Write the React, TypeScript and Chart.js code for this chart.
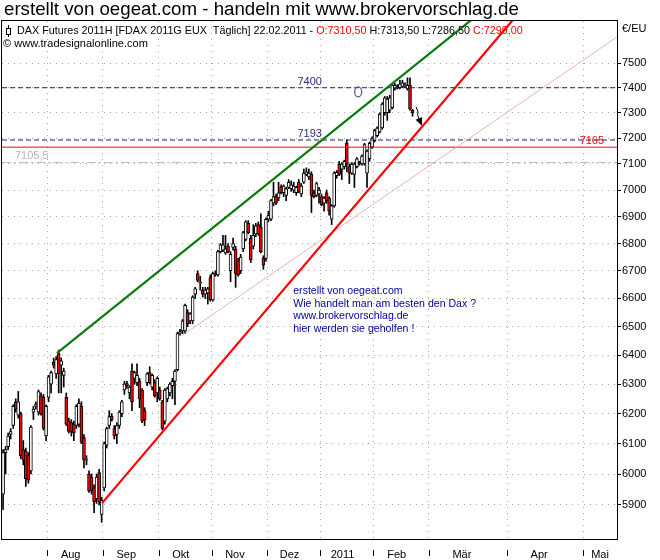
import React, { useEffect, useRef } from "react";
import { Chart, registerables } from "chart.js";

Chart.register(...registerables);

// Bar index counts trading days from 1 Jul 2010 (index 0); after the last bar (22.02.2011) calendar days follow.
const FIRST_BAR = 4;

const opens = [
  5935, 6070, 6090, 6130, 6160, 6240, 6195, 6200, 6080, 6075, 6060, 6010, 6205, 6225, 6205, 6260, 6255, 6125, 6255,
  6300, 6375, 6335, 6405, 6365, 6330, 6255, 6175, 6170, 6165, 6160, 6165, 6225, 6120, 6045, 6000, 5990, 5955, 5920, 6005, 5870,
  5955, 6095, 6160, 6192, 6150, 6130, 6160, 6200, 6280, 6302, 6270, 6345, 6320, 6305, 6310, 6280, 6210, 6305, 6340, 6290, 6305, 6270,
  6280, 6240, 6175, 6250, 6270, 6295, 6310, 6350, 6478, 6485, 6485, 6550, 6520, 6520, 6615, 6690, 6655, 6630, 6615, 6620, 6675,
  6595, 6690, 6685, 6770, 6775, 6765, 6790, 6700, 6785, 6780, 6735, 6700, 6780, 6815, 6875, 6820, 6790, 6835, 6870, 6860, 6745, 6745,
  6890, 6890, 6950, 6975, 6970, 7010, 6990, 6980, 7010, 7005, 7000, 6990, 7030, 6985, 7030, 7060, 7050, 7060, 6990, 6980, 6985,
  6975, 6950, 6990, 6970, 6890, 6940, 7055, 7100, 7080, 7090, 7180, 7090, 7065, 7060, 7090, 7105, 7100, 7100, 7065, 7120, 7165,
  7190, 7210, 7225, 7240, 7300, 7300, 7310, 7320, 7395, 7405, 7400, 7405, 7408, 7395, 7410, 7310.5,
];
const highs = [
  6080, 6090, 6135, 6150, 6230, 6250, 6275, 6205, 6110, 6085, 6070, 6160, 6225, 6240, 6280, 6270, 6265, 6230, 6330,
  6345, 6390, 6395, 6418, 6390, 6355, 6270, 6185, 6180, 6175, 6230, 6250, 6240, 6130, 6060, 6010, 6000, 5965, 6000, 6015, 5925,
  6105, 6155, 6210, 6200, 6160, 6170, 6210, 6245, 6310, 6310, 6295, 6370, 6345, 6370, 6320, 6285, 6220, 6340, 6360, 6335, 6315, 6325,
  6290, 6245, 6285, 6290, 6305, 6320, 6350, 6480, 6490, 6525, 6580, 6560, 6550, 6610, 6640, 6700, 6680, 6640, 6640, 6640, 6685,
  6695, 6700, 6775, 6800, 6830, 6830, 6800, 6770, 6820, 6790, 6745, 6760, 6845, 6885, 6885, 6830, 6870, 6875, 6880, 6910, 6755, 6895,
  6920, 6965, 7030, 6985, 7030, 7020, 7020, 7010, 7040, 7035, 7030, 7015, 7040, 7025, 7080, 7085, 7080, 7070, 7000, 7030, 7010,
  6985, 6975, 7000, 6975, 6945, 7070, 7075, 7110, 7105, 7115, 7193, 7100, 7105, 7105, 7125, 7110, 7135, 7180, 7155, 7185, 7205,
  7235, 7245, 7300, 7340, 7365, 7365, 7370, 7415, 7418, 7412, 7430, 7430, 7420, 7440, 7440, 7313.5,
];
const lows = [
  5885, 6000, 6080, 6115, 6150, 6205, 6185, 6050, 6030, 5960, 5970, 6000, 6180, 6215, 6195, 6195, 6145, 6110, 6240,
  6270, 6355, 6320, 6270, 6270, 6290, 6160, 6135, 6125, 6110, 6150, 6155, 6100, 6020, 6030, 5940, 5935, 5875, 5905, 5900, 5845,
  5945, 6085, 6150, 6175, 6115, 6100, 6150, 6190, 6265, 6285, 6250, 6210, 6300, 6295, 6220, 6170, 6160, 6295, 6300, 6280, 6255, 6240,
  6245, 6145, 6165, 6240, 6260, 6250, 6230, 6345, 6470, 6475, 6475, 6500, 6510, 6510, 6600, 6660, 6630, 6605, 6600, 6580, 6590,
  6590, 6680, 6680, 6765, 6770, 6760, 6765, 6660, 6775, 6640, 6680, 6690, 6770, 6810, 6835, 6730, 6780, 6825, 6830, 6765, 6705, 6735,
  6880, 6885, 6940, 6945, 6960, 6985, 6975, 6960, 7005, 6995, 6990, 6980, 6990, 6975, 7025, 7055, 7040, 6915, 6970, 6975, 6950,
  6940, 6920, 6950, 6905, 6870, 6935, 7045, 7055, 7040, 7080, 7070, 7025, 7060, 7010, 7085, 7095, 7095, 7095, 7010, 7110, 7160,
  7185, 7205, 7220, 7235, 7290, 7270, 7300, 7315, 7390, 7395, 7395, 7400, 7400, 7390, 7310, 7286.5,
];
const closes = [
  6070, 6080, 6125, 6140, 6225, 6215, 6240, 6060, 6045, 5985, 5980, 6155, 6215, 6232, 6275, 6200, 6150, 6225, 6325,
  6340, 6365, 6385, 6335, 6380, 6345, 6165, 6140, 6140, 6135, 6225, 6235, 6105, 6045, 6048, 5945, 5945, 5910, 5990, 5910, 5915,
  6100, 6150, 6190, 6180, 6125, 6160, 6205, 6240, 6300, 6295, 6290, 6240, 6340, 6330, 6250, 6175, 6180, 6335, 6305, 6330, 6260, 6320,
  6250, 6150, 6280, 6285, 6300, 6310, 6345, 6475, 6482, 6520, 6575, 6510, 6545, 6605, 6635, 6665, 6660, 6615, 6630, 6635, 6595,
  6690, 6685, 6770, 6795, 6795, 6780, 6770, 6760, 6800, 6690, 6685, 6750, 6840, 6880, 6840, 6740, 6830, 6865, 6835, 6770, 6720, 6890,
  6905, 6960, 6975, 6950, 6990, 6990, 7015, 7005, 7030, 7020, 7015, 7010, 6995, 7015, 7065, 7070, 7065, 6980, 6975, 7025, 7000,
  6945, 6970, 6960, 6920, 6940, 7065, 7068, 7060, 7100, 7110, 7100, 7065, 7100, 7100, 7120, 7100, 7130, 7175, 7150, 7180, 7200,
  7230, 7240, 7295, 7335, 7360, 7355, 7360, 7410, 7410, 7398, 7415, 7420, 7412, 7410, 7315, 7299,
];

const monthLabels = ["Aug", "Sep", "Okt", "Nov", "Dez", "2011", "Feb", "Mär", "Apr", "Mai"];
// bar index of the first day of each month (Aug 2010 ... Jun 2011)
const monthStarts = [22, 44, 66, 87, 109, 130, 151, 173, 204, 234, 265];
const priceTicks = [5900, 6000, 6100, 6200, 6300, 6400, 6500, 6600, 6700, 6800, 6900, 7000, 7100, 7200, 7300, 7400, 7500];

const level7400 = 7400;
const level7193 = 7193;
const level7165 = 7165;
const level7105 = 7105.5;

const greenTrend = [{ x: 25.3, y: 6407 }, { x: 199.1, y: 7761 }];
const redTrend = [{ x: 43.15, y: 5906 }, { x: 212.4, y: 7761 }];
const pinkTrend = [{ x: 74.4, y: 6466 }, { x: 246.9, y: 7607 }];

const X_MIN = 3.57;
const X_MAX = 246.9;
const Y_MIN = 5792;
const Y_MAX = 7673;

const noteLines = [
  "erstellt von oegeat.com",
  "Wie handelt man am besten den Dax ?",
  "www.brokervorschlag.de",
  "hier werden sie geholfen !",
];

const FONT = "Liberation Sans";

const boundaries = monthStarts.slice(0, monthLabels.length).map((s) => s - 0.5);
const labelPositions = boundaries.map((b, k) =>
  Math.min(b + 0.42 * (monthStarts[k + 1] - 0.5 - b), (b + X_MAX) / 2)
);
const xTickDefs = [
  ...boundaries.map((v) => ({ value: v, label: "", boundary: true })),
  ...labelPositions.map((v, k) => ({ value: v, label: monthLabels[k], boundary: false })),
].sort((a, b) => a.value - b.value);

const fmt = (v: number) => v.toFixed(2).replace(".", ",");

function fitSize(ctx: CanvasRenderingContext2D, text: string, width: number) {
  ctx.font = `100px "${FONT}"`;
  return (100 * width) / ctx.measureText(text).width;
}

const overlay = {
  id: "overlay",
  beforeDraw(chart: any) {
    const { ctx, width, height } = chart;
    ctx.save();
    ctx.fillStyle = "#ffffff";
    ctx.fillRect(0, 0, width, height);
    ctx.restore();
  },
  afterDraw(chart: any) {
    const { ctx, chartArea: a, scales } = chart;
    const px = (v: number) => scales.x.getPixelForValue(v);
    const py = (v: number) => scales.y.getPixelForValue(v);
    ctx.save();
    ctx.textBaseline = "alphabetic";

    // plot frame
    ctx.strokeStyle = "#000";
    ctx.lineWidth = 1;
    ctx.strokeRect(Math.round(a.left) - 0.5, Math.round(a.top) - 0.5, Math.round(a.right - a.left) + 1, Math.round(a.bottom - a.top) + 1);

    // month separators in label row
    ctx.beginPath();
    boundaries.forEach((b) => {
      const x = Math.round(px(b)) + 0.5;
      if (x > a.left && x < a.right) {
        ctx.moveTo(x, a.bottom + 11);
        ctx.lineTo(x, a.bottom + 17);
      }
    });
    ctx.stroke();

    // main title
    const title = "erstellt von oegeat.com - handeln mit www.brokervorschlag.de";
    const ts = fitSize(ctx, title, 515);
    ctx.font = `${ts}px "${FONT}"`;
    ctx.fillStyle = "#000";
    ctx.textAlign = "left";
    ctx.fillText(title, 4, 15);

    // info header
    const last = opens.length - 1;
    const segs = [
      { t: "DAX Futures 2011H [FDAX 2011G EUX  Täglich] 22.02.2011 - ", c: "#000" },
      { t: "O:" + fmt(opens[last]), c: "#ff0000" },
      { t: " H:" + fmt(highs[last]) + " L:" + fmt(lows[last]) + " ", c: "#000" },
      { t: "C:" + fmt(closes[last]), c: "#ff0000" },
    ];
    const hs = fitSize(ctx, segs.map((s) => s.t).join(""), 506);
    ctx.font = `${hs}px "${FONT}"`;
    let hx = 17;
    segs.forEach((s) => {
      ctx.fillStyle = s.c;
      ctx.fillText(s.t, hx, 34);
      hx += ctx.measureText(s.t).width;
    });
    const copy = "© www.tradesignalonline.com";
    ctx.font = `${fitSize(ctx, copy, 145)}px "${FONT}"`;
    ctx.fillStyle = "#000";
    ctx.fillText(copy, 3, 47);

    // candle icon
    ctx.strokeStyle = "#000";
    ctx.beginPath();
    ctx.moveTo(8.5, 25);
    ctx.lineTo(8.5, 37);
    ctx.stroke();
    ctx.fillStyle = "#fff";
    ctx.fillRect(6.5, 28.5, 4, 6);
    ctx.strokeRect(6.5, 28.5, 4, 6);

    // axis unit
    ctx.font = `11px "${FONT}"`;
    ctx.fillStyle = "#000";
    ctx.fillText("€/EU", 622, 32);

    // level labels
    ctx.font = `11px "${FONT}"`;
    ctx.textAlign = "center";
    ctx.fillStyle = "#2a2a78";
    ctx.fillText("7400", px(125.3), py(level7400) - 3);
    ctx.fillText("7193", px(125.3), py(level7193) - 3);
    ctx.textAlign = "right";
    ctx.fillStyle = "#ff0000";
    ctx.fillText("7165", px(241.8), py(level7165) - 3);
    ctx.textAlign = "left";
    ctx.fillStyle = "#b4b4b4";
    ctx.fillText("7105,5", px(8.7), py(level7105) - 4);

    // note block
    ctx.fillStyle = "#0000a0";
    const ns = fitSize(ctx, noteLines[1], 183);
    ctx.font = `${ns}px "${FONT}"`;
    const nx = px(118.8);
    const ny = py(6616);
    noteLines.forEach((l, k) => ctx.fillText(l, nx, ny + k * 12.7));

    // "O" marker
    ctx.strokeStyle = "#5a5a88";
    ctx.lineWidth = 1.3;
    ctx.beginPath();
    ctx.ellipse(px(144.5), py(7383), 3.5, 5, 0, 0, Math.PI * 2);
    ctx.stroke();

    // arrow
    const x1 = px(167.4), y1 = py(7323);
    const x2 = px(169.4), y2 = py(7256);
    ctx.strokeStyle = "#000";
    ctx.lineWidth = 1;
    ctx.beginPath();
    ctx.moveTo(x1, y1);
    ctx.lineTo(x1 + 2, y1 + 5);
    ctx.lineTo(x1 + 1.5, y1 + 8);
    ctx.lineTo(x2, y2);
    ctx.stroke();
    const ang = Math.atan2(y2 - (y1 + 8), x2 - (x1 + 1.5));
    ctx.fillStyle = "#000";
    ctx.beginPath();
    ctx.moveTo(x2 + Math.cos(ang) * 2, y2 + Math.sin(ang) * 2);
    ctx.lineTo(x2 - Math.cos(ang) * 6 + Math.sin(ang) * 3.5, y2 - Math.sin(ang) * 6 - Math.cos(ang) * 3.5);
    ctx.lineTo(x2 - Math.cos(ang) * 6 - Math.sin(ang) * 3.5, y2 - Math.sin(ang) * 6 + Math.cos(ang) * 3.5);
    ctx.closePath();
    ctx.fill();

    ctx.restore();
  },
};

function levelLine(y: number) {
  return [{ x: X_MIN, y }, { x: X_MAX, y }];
}

export default function App() {
  const ref = useRef<HTMLCanvasElement>(null);

  useEffect(() => {
    const canvas = ref.current;
    if (!canvas) return;
    const idx = opens.map((_, k) => FIRST_BAR + k);
    const wickData = idx.map((x, k) => ({ x, y: [lows[k], highs[k]] }));
    const bodyData = idx.map((x, k) => ({ x, y: [opens[k], closes[k]] }));
    const bodyColors = opens.map((o, k) => (closes[k] < o ? "#ff0000" : "#ffffff"));

    const lineBase = { type: "line", pointRadius: 0, tension: 0, fill: false, borderCapStyle: "butt" };

    const chart = new Chart(canvas, {
      type: "bar",
      data: {
        datasets: [
          { ...lineBase, data: levelLine(level7105), borderColor: "#bdbdbd", borderWidth: 1, borderDash: [9, 3, 2, 3], order: 5 } as any,
          { type: "bar", data: wickData, backgroundColor: "#000", borderWidth: 0, barThickness: 1, grouped: false, order: 4 } as any,
          {
            type: "bar", data: bodyData, backgroundColor: bodyColors, borderColor: "#000", borderWidth: 1,
            borderSkipped: false, barThickness: 3, grouped: false, minBarLength: 1, order: 3,
          } as any,
          { ...lineBase, data: levelLine(level7400), borderColor: "#20206e", borderWidth: 1, borderDash: [5, 3], order: 2 } as any,
          { ...lineBase, data: levelLine(level7193), borderColor: "#20206e", borderWidth: 1, borderDash: [5, 3], order: 2 } as any,
          { ...lineBase, data: levelLine(level7165), borderColor: "#ff0000", borderWidth: 1, order: 2 } as any,
          { ...lineBase, data: pinkTrend, borderColor: "#f0b4b4", borderWidth: 1, order: 1 } as any,
          { ...lineBase, data: greenTrend, borderColor: "#0a7a0a", borderWidth: 2.2, order: 0 } as any,
          { ...lineBase, data: redTrend, borderColor: "#ff0000", borderWidth: 2.2, order: 0 } as any,
        ],
      },
      options: {
        animation: false,
        responsive: false,
        devicePixelRatio: 1,
        events: [],
        layout: { padding: { left: 2, top: 21, right: 0, bottom: 0 } },
        plugins: { legend: { display: false }, tooltip: { enabled: false }, title: { display: false } },
        scales: {
          x: {
            type: "linear",
            position: "bottom",
            min: X_MIN,
            max: X_MAX,
            offset: false,
            afterBuildTicks: (s: any) => {
              s.ticks = xTickDefs.map((d) => ({ value: d.value }));
            },
            afterFit: (s: any) => {
              s.height = 21;
            },
            ticks: {
              autoSkip: false,
              maxRotation: 0,
              minRotation: 0,
              padding: 9,
              color: "#000",
              font: { family: FONT, size: 11 },
              callback: (_v: any, i: number) => xTickDefs[i].label,
            },
            grid: {
              offset: false,
              drawTicks: false,
              lineWidth: 1,
              color: (c: any) => (xTickDefs[c.index] && xTickDefs[c.index].boundary ? "#a8a8a8" : "rgba(0,0,0,0)"),
            },
            border: { display: false, dash: [1, 5] },
          },
          y: {
            type: "logarithmic",
            position: "right",
            min: Y_MIN,
            max: Y_MAX,
            beginAtZero: false,
            afterBuildTicks: (s: any) => {
              s.ticks = priceTicks.map((v) => ({ value: v }));
            },
            afterFit: (s: any) => {
              s.width = 43;
            },
            ticks: {
              padding: 1,
              color: "#000",
              font: { family: FONT, size: 11 },
              callback: (v: any) => String(v),
            },
            grid: { color: "#a8a8a8", lineWidth: 1, drawTicks: true, tickLength: 4, tickColor: "#000" },
            border: { display: false, dash: [1, 5] },
          },
        },
      } as any,
      plugins: [overlay],
    } as any);

    return () => chart.destroy();
  }, []);

  return (
    <div style={{ position: "fixed", left: 0, top: 0, width: 660, height: 560, background: "#fff" }}>
      <canvas ref={ref} width={660} height={560} style={{ display: "block", width: 660, height: 560 }} />
    </div>
  );
}
